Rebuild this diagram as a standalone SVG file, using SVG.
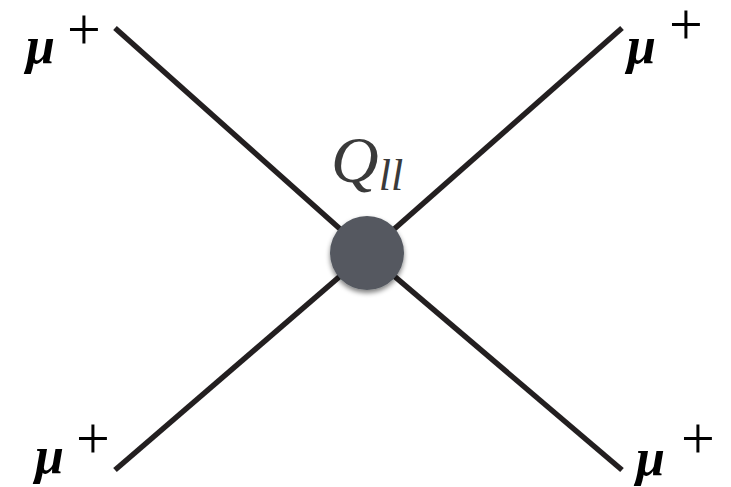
<svg xmlns="http://www.w3.org/2000/svg" width="731" height="487" viewBox="0 0 731 487">
<style>
.ln{stroke:#231f20;stroke-width:5.5;stroke-linecap:butt;fill:none}
.mu{font-family:"Liberation Serif",serif;font-style:italic;font-weight:bold;font-size:52px;fill:#000}
.pl{font-family:"Liberation Serif",serif;font-size:60px;fill:#000}
.q{font-family:"Liberation Serif",serif;font-style:italic;fill:#3a3a3a}
</style>
<defs>
<filter id="sh" x="-50%" y="-50%" width="200%" height="200%">
<feGaussianBlur in="SourceAlpha" stdDeviation="2.5"/>
<feOffset dx="0" dy="3" result="b"/>
<feComponentTransfer><feFuncA type="linear" slope="0.5"/></feComponentTransfer>
<feMerge><feMergeNode/><feMergeNode in="SourceGraphic"/></feMerge>
</filter>
</defs>
<rect width="731" height="487" fill="#fff"/>
<g id="connectors">
<line class="ln" x1="115" y1="28" x2="367" y2="253"/>
<line class="ln" x1="622" y1="28" x2="367" y2="253"/>
<line class="ln" x1="115" y1="470" x2="367" y2="253"/>
<line class="ln" x1="622" y1="470" x2="367" y2="253"/>
</g>
<g id="vertex">
<circle cx="367" cy="253" r="37" fill="#545961" filter="url(#sh)"/>
<text class="q" x="331" y="182" font-size="66">Q<tspan font-size="44" dy="8">ll</tspan></text>
</g>
<g id="mu-tl"><text class="mu" x="26" y="63">μ</text><text class="pl" x="67" y="49">+</text></g>
<g id="mu-tr"><text class="mu" x="627" y="63">μ</text><text class="pl" x="669" y="44">+</text></g>
<g id="mu-bl"><text class="mu" x="35" y="473">μ</text><text class="pl" x="76" y="458">+</text></g>
<g id="mu-br"><text class="mu" x="636" y="475">μ</text><text class="pl" x="681" y="458">+</text></g>
</svg>
